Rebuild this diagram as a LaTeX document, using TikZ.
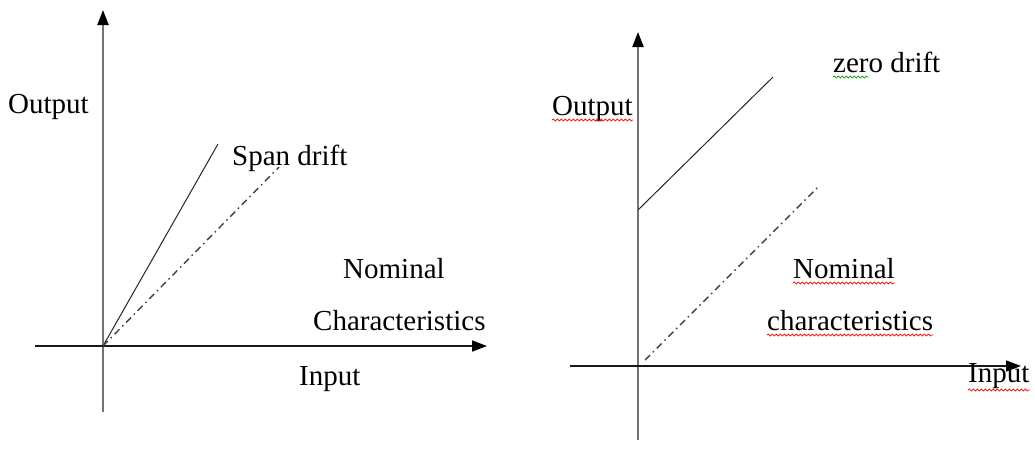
\documentclass[tikz,border=0pt]{standalone}
\usepackage{fontspec}
\setmainfont{Liberation Serif}
\usetikzlibrary{arrows.meta,decorations.pathmorphing}
\begin{document}
\begin{tikzpicture}[x=1pt,y=-1pt,
  lbl/.style={anchor=base west,inner sep=0pt,font=\fontsize{29}{34}\selectfont},
  yaxis/.style={draw=black!55,line width=2.2pt,-{Triangle[length=15pt,width=11pt,fill=black,color=black]}},
  xaxis/.style={draw=black!90,line width=1.6pt,-{Triangle[length=15pt,width=11pt,fill=black,color=black]}},
  drift/.style={draw=black!85,line width=1pt},
  nominal/.style={draw=black!75,line width=1.4pt,dash pattern=on 7pt off 4pt on 1.5pt off 4pt},
  squig/.style={decorate,decoration={snake,amplitude=1pt,segment length=4pt},line width=0.7pt}]
\useasboundingbox (0,0) rectangle (1035,450);
% ---------- left diagram ----------
\coordinate (LO) at (103,346);
\coordinate (LyB) at (103,412);
\coordinate (LyT) at (103,10);
\coordinate (LxL) at (35,346);
\coordinate (LxR) at (487,346);
\coordinate (Lspan) at (218,144);
\coordinate (Lnom) at (279,167);
\draw[yaxis] (LyB) -- (LyT);
\draw[xaxis] (LxL) -- (LxR);
\draw[drift] (LO) -- (Lspan);
\draw[nominal] (LO) -- (Lnom);
\node[lbl] (Lout) at (8,113) {Output};
\node[lbl] (Lspanlbl) at (232,165) {Span drift};
\node[lbl] (Lnom1) at (343,278) {Nominal};
\node[lbl] (Lnom2) at (313,330) {Characteristics};
\node[lbl] (Lin) at (299,385) {Input};
% ---------- right diagram ----------
\coordinate (RO) at (638,366);
\coordinate (RyB) at (638,440);
\coordinate (RyT) at (638,32);
\coordinate (RxL) at (570,366);
\coordinate (RxR) at (1021,366);
\coordinate (Rz0) at (638,210);
\coordinate (Rz1) at (773,77);
\coordinate (Rn0) at (645,360);
\coordinate (Rn1) at (818,187);
\draw[yaxis] (RyB) -- (RyT);
\draw[xaxis] (RxL) -- (RxR);
\draw[drift] (Rz0) -- (Rz1);
\draw[nominal] (Rn0) -- (Rn1);
\node[lbl] (Rout) at (552,115) {Output};
\node[lbl] (Rzero) at (833,72) {zero drift};
\node[lbl] (Rnom1) at (793,278) {Nominal};
\node[lbl] (Rnom2) at (767,330) {characteristics};
\node[lbl] (Rin) at (968,382) {Input};
% spell-check underlines
\draw[squig,red] ([yshift=-5pt]Rout.base west) -- ([yshift=-5pt]Rout.base east);
\draw[squig,red] ([yshift=-5pt]Rnom1.base west) -- ([yshift=-5pt]Rnom1.base east);
\draw[squig,red] ([yshift=-5pt]Rnom2.base west) -- ([yshift=-5pt]Rnom2.base east);
\draw[squig,red] ([yshift=-8pt]Rin.base west) -- ([yshift=-8pt]Rin.base east);
\draw[squig,green!60!black] ([yshift=-5pt]Rzero.base west) -- ([yshift=-5pt,xshift=-72pt]Rzero.base east);
\end{tikzpicture}
\end{document}
